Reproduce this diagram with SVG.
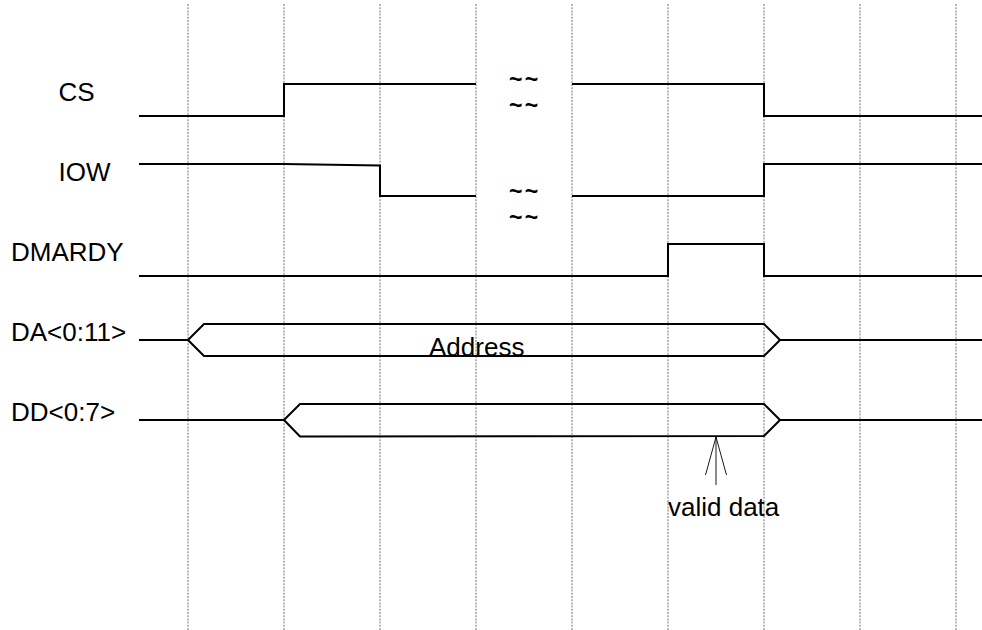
<svg xmlns="http://www.w3.org/2000/svg" width="982" height="630" viewBox="0 0 982 630">
<style>
.grid line{stroke:#8a8a8a;stroke-width:1.2;stroke-dasharray:2 1.2;}
.sig{fill:none;stroke:#000;stroke-width:2;stroke-linejoin:miter;}
.lbl{font-family:"Liberation Sans",Arial,sans-serif;font-size:26px;fill:#000;}
.brk{font-family:"Liberation Sans",Arial,sans-serif;font-size:23px;font-weight:bold;letter-spacing:2.2px;fill:#000;}
.ptr{fill:none;stroke:#000;stroke-width:0.9;}
</style>
<rect width="982" height="630" fill="#fff"/>
<g id="grid" class="grid">
<line x1="188" y1="4" x2="188" y2="630"/>
<line x1="284" y1="4" x2="284" y2="630"/>
<line x1="380" y1="4" x2="380" y2="630"/>
<line x1="476" y1="4" x2="476" y2="630"/>
<line x1="572" y1="4" x2="572" y2="630"/>
<line x1="668" y1="4" x2="668" y2="630"/>
<line x1="764" y1="4" x2="764" y2="630"/>
<line x1="860" y1="4" x2="860" y2="630"/>
<line x1="956" y1="4" x2="956" y2="630"/>
</g>
<g id="cs">
<text class="lbl" x="58.5" y="101">CS</text>
<polyline class="sig" points="139,116 284,116 284,84 476,84"/>
<polyline class="sig" points="572,84 764,84 764,116 982,116"/>
<text class="brk" x="509" y="86.8">~~</text>
<text class="brk" x="509" y="112.8">~~</text>
</g>
<g id="iow">
<text class="lbl" x="58.5" y="181">IOW</text>
<polyline class="sig" points="139,164 284,164 380,165.5 380,196 476,196"/>
<polyline class="sig" points="572,196 764,196 764,164 982,164"/>
<text class="brk" x="509" y="198.8">~~</text>
<text class="brk" x="509" y="224.8">~~</text>
</g>
<g id="dmardy">
<text class="lbl" x="11" y="261">DMARDY</text>
<polyline class="sig" points="139,276 668,276 668,244 764,244 764,276 982,276"/>
</g>
<g id="da">
<text class="lbl" x="11" y="341">DA&lt;0:11&gt;</text>
<polyline class="sig" points="139,340 188,340 204,324 764,324 780,340 982,340"/>
<polyline class="sig" points="188,340 204,356 764,356 780,340"/>
<text class="lbl" x="429" y="356">Address</text>
</g>
<g id="dd">
<text class="lbl" x="11" y="421">DD&lt;0:7&gt;</text>
<polyline class="sig" points="139,420 284,420 300,404 764,404 780,420 982,420"/>
<polyline class="sig" points="284,420 300,436.5 764,436 780,420"/>
</g>
<g id="connectors">
<line class="ptr" x1="716" y1="437" x2="716" y2="485"/>
<line class="ptr" x1="716" y1="437" x2="705.5" y2="475"/>
<line class="ptr" x1="716" y1="437" x2="726.5" y2="475"/>
</g>
<g id="valid-data">
<text class="lbl" x="668" y="516">valid data</text>
</g>
</svg>
